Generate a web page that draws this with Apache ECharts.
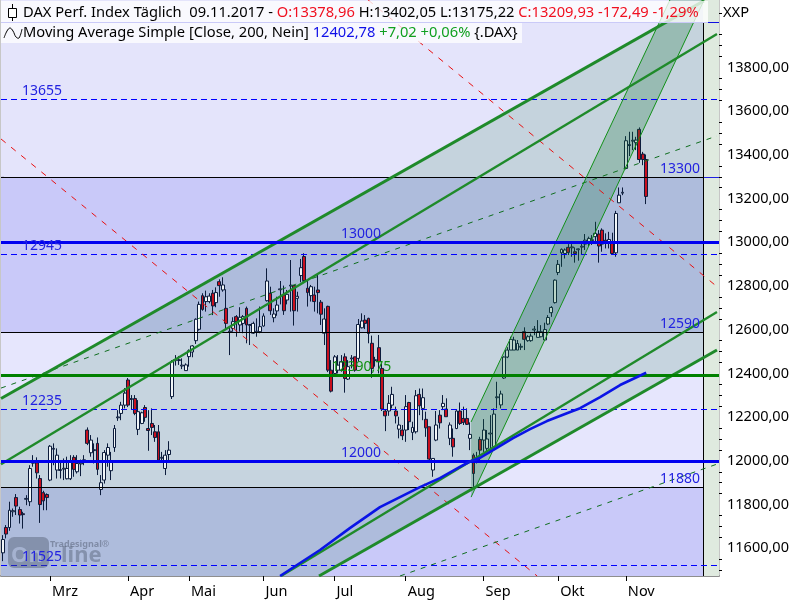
<!DOCTYPE html>
<html><head><meta charset="utf-8">
<style>html,body{margin:0;padding:0;background:#fff}#c{width:800px;height:600px}</style>
<script src="https://cdn.jsdelivr.net/npm/echarts@6/dist/echarts.min.js"></script>
</head><body><div id="c"></div>
<script>
// ---- candle data, sessions 0..190 ----
const opens=[
11579,11695,11695,11767,11832,11777,11758,11824,11813,11989,
11991,11919,11854,11846,11912,12053,11958,11956,11962,11918,
11918,12016,11950,11986,12001,12141,12037,12047,12080,11869,
11912,12026,11955,12061,12197,12217,12255,12370,12281,12285,
12144,12171,12244,12148,12171,12133,12133,12012,11965,12029,
12294,12459,12459,12434,12413,12477,12498,12550,12602,12756,
12729,12729,12767,12724,12820,12782,12698,12589,12606,12660,
12622,12629,12698,12620,12584,12589,12591,12617,12733,12767,
12655,12686,12783,12759,12736,12800,12802,12744,12848,12935,
12790,12756,12759,12782,12726,12584,12707,12415,12400,12415,
12415,12476,12374,12467,12476,12469,12609,12644,12652,12538,
12459,12518,12423,12228,12228,12255,12228,12145,12141,12141,
12267,12130,12133,12304,12240,12190,12156,11958,12095,12209,
12248,12237,12103,12103,12148,12228,12194,12194,12103,12026,
11999,12098,12095,12057,12123,12065,12289,12256,12379,12475,
12507,12507,12507,12520,12591,12550,12550,12599,12565,12568,
12553,12626,12678,12724,12862,12952,12949,12977,12975,12957,
12966,12978,12992,12998,13008,13026,13038,13056,13010,13003,
12995,12952,13181,13225,13338,13443,13463,13456,13517,13404,13379];
const closes=[
11640,11665,11774,11772,11793,11752,11754,11828,11965,11993,
11945,11800,11817,11832,12067,12057,12026,11960,11966,11965,
11996,11961,11988,11990,12005,12080,12095,12051,11961,11900,
12038,12061,11996,12148,12201,12255,12310,12255,12285,12217,
12225,12220,12199,12139,12153,12107,12003,12016,12026,12049,
12454,12463,12463,12438,12439,12504,12526,12648,12716,12693,
12751,12754,12709,12770,12802,12805,12629,12593,12637,12637,
12657,12660,12622,12624,12629,12593,12614,12663,12823,12687,
12672,12713,12787,12687,12762,12804,12687,12753,12884,12825,
12770,12797,12729,12770,12671,12649,12415,12319,12476,12438,
12454,12377,12431,12471,12415,12624,12640,12629,12583,12423,
12463,12454,12237,12206,12263,12304,12206,12164,12115,12248,
12179,12153,12298,12252,12289,12151,12008,12011,12164,12174,
12263,12202,12164,12064,12228,12171,12176,12167,12121,11942,
12011,12049,12141,12100,12127,12214,12293,12306,12475,12507,
12556,12553,12537,12524,12556,12568,12571,12603,12591,12591,
12601,12656,12702,12827,12899,12968,12965,12954,12979,12949,
12970,12982,13010,13018,13012,13041,12983,12992,12998,13013,
12949,13132,13216,13229,13465,13447,13467,13468,13379,13379,13210];
const lows=[
11541,11645,11680,11744,11752,11713,11690,11797,11793,11973,
11919,11716,11774,11774,11907,11980,11919,11919,11912,11915,
11912,11927,11942,11930,11980,12072,12019,11988,11935,11843,
11896,11973,11912,12041,12183,12186,12240,12246,12233,12209,
12118,12168,12179,12046,12118,12087,11996,12003,11935,12003,
12283,12436,12439,12420,12413,12431,12474,12535,12596,12687,
12683,12721,12667,12703,12751,12774,12606,12484,12591,12568,
12591,12584,12538,12530,12581,12568,12584,12614,12729,12668,
12634,12664,12716,12668,12716,12683,12619,12683,12817,12817,
12706,12729,12683,12675,12622,12530,12406,12313,12385,12400,
12408,12312,12370,12423,12408,12454,12606,12603,12538,12380,
12431,12400,12228,12136,12206,12240,12171,12103,12095,12087,
12141,12095,12125,12209,12186,12110,12003,11927,12090,12148,
12232,12202,12072,12019,12145,12164,12164,12164,12049,11881,
11988,11996,12041,12041,12041,12065,12240,12240,12375,12470,
12507,12507,12507,12507,12507,12545,12545,12575,12565,12565,
12553,12621,12659,12720,12850,12888,12926,12942,12934,12907,
12916,12942,12965,12980,12988,12992,12907,12957,12972,12972,
12942,12934,13181,13216,13334,13395,13422,13422,13364,13353,13175];
const highs=[
11660,11706,11813,11782,11848,11790,11767,11843,11980,12026,
12016,11935,11863,11851,12072,12080,12057,12003,12011,12019,
12026,12026,12026,12006,12026,12153,12118,12080,12107,11935,
12049,12080,12041,12164,12232,12270,12333,12379,12301,12301,
12278,12225,12255,12232,12240,12164,12164,12041,12049,12090,
12461,12484,12480,12469,12446,12510,12530,12652,12729,12767,
12779,12767,12782,12794,12831,12840,12785,12617,12657,12667,
12703,12667,12706,12626,12637,12652,12706,12675,12881,12797,
12698,12751,12823,12802,12782,12919,12804,12774,12924,12950,
12828,12805,12797,12858,12736,12698,12710,12461,12484,12484,
12484,12492,12461,12484,12476,12649,12675,12667,12655,12573,
12476,12576,12446,12237,12301,12339,12248,12202,12164,12301,
12270,12179,12324,12331,12331,12225,12156,12011,12228,12232,
12301,12286,12176,12148,12232,12267,12248,12240,12176,12034,
12041,12110,12191,12141,12209,12240,12362,12321,12478,12520,
12568,12568,12553,12537,12611,12575,12583,12617,12644,12621,
12632,12667,12708,12830,12919,12972,12972,12992,12992,12977,
12972,12995,13038,13026,13033,13094,13056,13064,13041,13048,
13044,13144,13251,13251,13486,13506,13506,13483,13526,13414,13402];

// 200-day moving average, [session, price]
const maPoints=[[81.9,11473],[93.7,11592],[102.5,11692],[111.4,11788],[117.3,11834],[123.2,11880],[129.1,11921],[135,11972],[138,11997],[140.9,12013],[145.9,12059],[150.7,12104],[155.7,12145],[160.7,12182],[166.6,12218],[170.5,12241],[176.4,12292],[182.3,12347],[190,12403]];

// x axis
const sessionSlots=212;
const monthNames=['Mrz','Apr','Mai','Jun','Jul','Aug','Sep','Okt','Nov'];
const monthStarts=[14,37,55,77,98,119,142,164,184];

// y axis
const yMin=11473,yMax=14109;
const priceTicks=[11600,11800,12000,12200,12400,12600,12800,13000,13200,13400,13600,13800];
const minorTicks=[11500,11550,11650,11700,11750,11850,11900,11950,12050,12100,12150,12250,12300,12350,12450,12500,12550,12650,12700,12750,12850,12900,12950,13050,13100,13150,13250,13300,13350,13450,13500,13550,13650,13700,13750,13850,13900,13950,14050];

// horizontal levels
const thickBlueLevels=[13000,12000];
const dashedBlueLevels=[13655,12945,12235,11525];
const blackLevels=[13300,12590,11880];
const greenLevel=12392;
const topLevel=14008;
const rightEdge=206.8;
const bandEdges=[14109,13300,12590,11880,11473];

// trend lines, [session, price]
const chanUpperA=[[-0.5,12285],[207,14105]];
const chanUpperB=[[-0.5,11984],[210.9,13953]];
const chanMidUpper=[[-0.5,12333],[210.9,13487]];
const chanLowerD=[[82.2,11473],[210.9,12681]];
const chanLowerE=[[93.4,11473],[210.9,12507]];
const chanMidLower=[[117.3,11473],[210.9,11985]];
const redLine1=[[-0.5,13473],[157.8,11473]];
const redLine2=[[107.9,14109],[210.3,12805]];
const steepLeft=[[138.3,12178],[197,14109]];
const steepRight=[[138.3,11834],[207.1,14109]];
const channelArea=[[-0.5,12285],[206.8,14102],[206.8,12470],[93.4,11473],[-0.5,11473]];

// level labels
const labelTexts=['13655','12945','12235','11525','13000','12000','12390,75','13300','12590','11880'];
const labelPrices=[13655,12945,12235,11525,13000,12000,12392,13300,12590,11880];
const labelSessions=[5.7,5.7,5.7,5.7,99.9,99.9,97.1,194.1,194.1,194.1];

const FONT='"Noto Sans",Tahoma,sans-serif';
const cats=Array.from({length:sessionSlots},(_,i)=>{const k=monthStarts.indexOf(i);return k>=0?monthNames[k]:'';});
const candleData=opens.map((o,i)=>[o,closes[i],lows[i],highs[i]]);
const snap=v=>Math.round(v)+0.5;

function over(name,data,color,width,dash,z){
  return {name,type:'line',xAxisIndex:1,yAxisIndex:0,data,showSymbol:false,silent:true,animation:false,z:z||5,clip:true,
    lineStyle:{color,width,type:dash||'solid',cap:'butt'},emphasis:{disabled:true}};
}
// axis-aligned rule, drawn through the axes and snapped to whole pixels
function rule(a,b,color,width,dash,z){
  return {type:'custom',xAxisIndex:1,yAxisIndex:0,data:[0],silent:true,animation:false,z:z||5,clip:true,
    renderItem:(p,api)=>{const s=api.coord(a),e=api.coord(b);
      const horiz=a[1]===b[1];
      return {type:'line',shape:horiz?{x1:s[0],y1:snap(s[1]),x2:e[0],y2:snap(s[1])}:{x1:snap(s[0]),y1:s[1],x2:snap(s[0]),y2:e[1]},
        style:{stroke:color,lineWidth:width,lineDash:dash||null,fill:null}};}};
}
function poly(points,color,z){
  return {type:'custom',xAxisIndex:1,yAxisIndex:0,data:[0],silent:true,animation:false,z,clip:true,
    renderItem:(p,api)=>({type:'polygon',shape:{points:points.map(q=>api.coord(q))},style:{fill:color}})};
}
const series=[];
const bandColors=['#E4E4FB','#C9C9F9','#E6E6FD','#C9C9F9'];
bandColors.forEach((c,k)=>series.push(poly([[-0.5,bandEdges[k]],[rightEdge,bandEdges[k]],[rightEdge,bandEdges[k+1]],[-0.5,bandEdges[k+1]]],c,1)));
series.push(poly([[rightEdge,yMax],[211.5,yMax],[211.5,yMin],[rightEdge,yMin]],'#DFEADF',1));
series.push(poly(channelArea,'rgba(21,114,56,0.15)',2));
series.push({name:'DAX',type:'candlestick',xAxisIndex:0,yAxisIndex:0,data:candleData,barWidth:3.4,silent:true,animation:false,z:3,
  itemStyle:{color:'#F2F6F8',color0:'#C8101E',borderColor:'#0C1C3C',borderColor0:'#0C1C3C',borderWidth:1}});
series.push(poly([steepLeft[0],steepLeft[1],steepRight[1],steepRight[0]],'rgba(21,114,56,0.25)',4));
series.push(rule([rightEdge,13300],[211.5,13300],'#2020E0',1));
blackLevels.forEach(v=>series.push(rule([-0.5,v],[rightEdge,v],'#000',1)));
series.push(rule([rightEdge,topLevel],[rightEdge,yMin],'#000',1));
dashedBlueLevels.forEach(v=>series.push(rule([-0.5,v],[211.5,v],'#0000FF',1,[6,4])));
series.push(over('red1',redLine1,'#E81010',1,[6,7]));
series.push(over('red2',redLine2,'#E81010',1,[6,7]));
series.push(over('midU',chanMidUpper,'#0F6E1E',1,[5,6]));
series.push(over('midL',chanMidLower,'#0F6E1E',1,[5,6]));
series.push(over('sl',steepLeft,'#129018',1));
series.push(over('sr',steepRight,'#129018',1));
series.push(over('A',chanUpperA,'#1F8A2A',3));
series.push(over('B',chanUpperB,'#1F8A2A',2.4));
series.push(over('D',chanLowerD,'#1F8A2A',2.4));
series.push(over('E',chanLowerE,'#1F8A2A',3));
series.push(rule([-0.5,greenLevel],[211.5,greenLevel],'#008000',3,null,6));
thickBlueLevels.forEach(v=>series.push(rule([-0.5,v],[211.5,v],'#0000F0',3,null,6)));
series.push(over('MA',maPoints,'#0A14E6',2.6,null,6));
series.push(rule([-0.5,topLevel],[211.5,topLevel],'#1010E0',1,null,6));
series.push({type:'custom',xAxisIndex:1,yAxisIndex:0,silent:true,animation:false,z:8,clip:false,
  data:labelTexts.map((t,i)=>[labelSessions[i],labelPrices[i],t]),
  renderItem:(p,api)=>{const c=api.coord([api.value(0),api.value(1)]);const t=labelTexts[p.dataIndex];
    return {type:'text',x:c[0],y:c[1]-8,style:{text:t,fill:t==='12390,75'?'#109010':'#2222E0',font:'14px '+FONT,align:'left',verticalAlign:'middle'}};}});

const chart=echarts.init(document.getElementById('c'),null,{renderer:'canvas'});
const HF='14.7px '+FONT, AF=14.5;
chart.setOption({
  animation:false,backgroundColor:'#fff',
  grid:{left:1,right:81,top:0,bottom:24,show:true,backgroundColor:'transparent',borderColor:'#8E8E8E',borderWidth:1},
  xAxis:[
    {type:'category',data:cats,boundaryGap:true,
     axisLine:{show:true,lineStyle:{color:'#8E8E8E',width:2}},
     axisTick:{show:true,alignWithLabel:true,length:5,interval:i=>monthStarts.includes(i),lineStyle:{color:'#000'}},
     axisLabel:{show:true,interval:i=>monthStarts.includes(i),align:'left',margin:8,color:'#000',fontFamily:'"Noto Sans",sans-serif',fontSize:AF,padding:[0,0,0,2]},
     splitLine:{show:false}},
    {type:'value',min:-0.5,max:211.5,show:false,splitLine:{show:false}}
  ],
  yAxis:[
    {type:'value',position:'right',min:yMin,max:yMax,scale:true,
     axisLine:{show:true,lineStyle:{color:'#8E8E8E',width:2}},
     axisTick:{show:true,length:5,customValues:priceTicks,lineStyle:{color:'#000'}},
     axisLabel:{show:true,customValues:priceTicks,margin:8,padding:[3,0,0,0],color:'#000',fontFamily:'"Noto Sans",sans-serif',fontSize:AF,formatter:v=>v.toFixed(2).replace('.',',')},
     splitLine:{show:false}},
    {type:'value',position:'right',min:yMin,max:yMax,scale:true,
     axisLine:{show:false},axisTick:{show:true,length:3,customValues:minorTicks,lineStyle:{color:'#000'}},
     axisLabel:{show:false},splitLine:{show:false}}
  ],
  series,
  graphic:[
    {type:'rect',z:50,silent:true,shape:{x:1,y:1,width:707,height:22},style:{fill:'rgba(255,255,255,0.78)'}},
    {type:'rect',z:50,silent:true,shape:{x:1,y:23,width:521,height:20},style:{fill:'rgba(255,255,255,0.72)'}},
    {type:'line',z:51,silent:true,shape:{x1:12.5,y1:4,x2:12.5,y2:21},style:{stroke:'#000',lineWidth:1}},
    {type:'rect',z:52,silent:true,shape:{x:8.5,y:8.5,width:8,height:9},style:{fill:'#fff',stroke:'#000',lineWidth:1}},
    {type:'polyline',z:51,silent:true,shape:{points:[[4,38],[7,31],[10,28],[13,31],[16,37],[19,38],[22,29]],smooth:0.4},style:{fill:'none',stroke:'#000',lineWidth:1}},
    {type:'text',z:53,silent:true,x:23,y:13,style:{
      text:'{k|DAX Perf. Index Täglich  09.11.2017 - }{r|O:13378,96} {k|H:13402,05 L:13175,22} {r|C:13209,93 -172,49 -1,29%}',
      font:HF,verticalAlign:'middle',align:'left',
      rich:{k:{fill:'#000',font:HF},r:{fill:'#F01020',font:HF}}}},
    {type:'text',z:53,silent:true,x:23,y:33,style:{
      text:'{k|Moving Average Simple [Close, 200, Nein]} {b|12402,78} {g|+7,02 +0,06%} {.DAX}',
      font:HF,fill:'#000',verticalAlign:'middle',align:'left',
      rich:{k:{fill:'#000',font:HF},b:{fill:'#1010E8',font:HF},g:{fill:'#10A020',font:HF}}}},
    {type:'text',z:53,silent:true,x:723,y:13,style:{text:'XXP',fill:'#000',font:HF,verticalAlign:'middle'}},
    // watermark
    {type:'rect',z:7,silent:true,shape:{x:8,y:537,width:41,height:31,r:6},style:{fill:'rgba(70,80,100,0.4)'}},
    {type:'text',z:7,silent:true,x:11,y:556,style:{text:'On',fill:'rgba(176,190,220,0.75)',font:'bold 22px '+FONT,verticalAlign:'middle'}},
    {type:'text',z:7,silent:true,x:61,y:556,style:{text:'line',fill:'rgba(70,80,100,0.4)',font:'bold 22px '+FONT,verticalAlign:'middle'}},
    {type:'text',z:7,silent:true,x:50,y:544,style:{text:'Tradesignal®',fill:'rgba(70,80,100,0.45)',font:'bold 9px '+FONT,verticalAlign:'middle'}}
  ]
});
</script></body></html>
